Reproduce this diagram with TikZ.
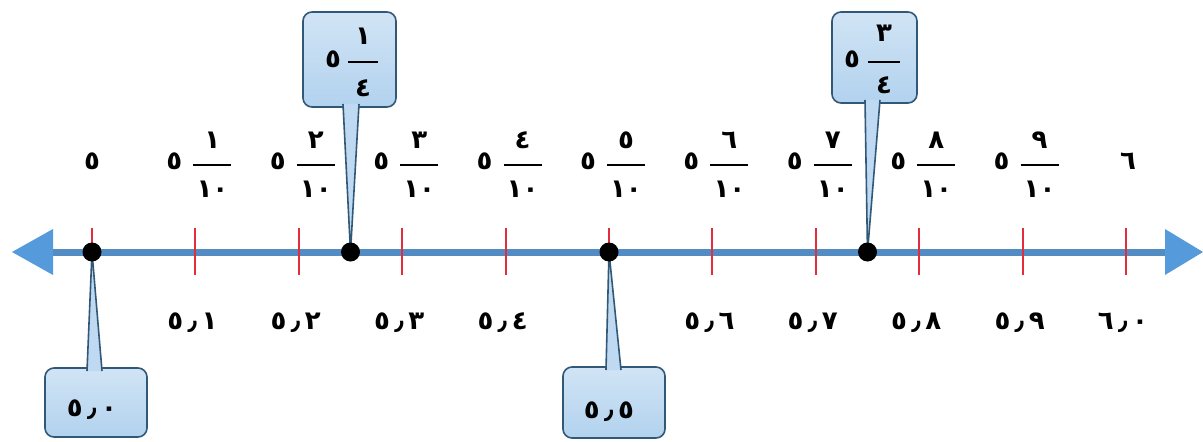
\documentclass[tikz,border=0pt]{standalone}
\usepackage{fontspec}
\newfontfamily\arnum{DejaVu Sans}
\definecolor{linec}{RGB}{82,140,195}
\definecolor{arrc}{RGB}{85,155,220}
\definecolor{tickc}{RGB}{225,45,60}
\definecolor{callfill}{RGB}{178,210,238}
\definecolor{calldraw}{RGB}{50,88,120}
\tikzset{
  num/.style={font=\arnum\bfseries\fontsize{26}{30}\selectfont, inner sep=0pt, anchor=center},
  callbox/.style={draw=calldraw, line width=1.6pt, rounded corners=9pt,
    top color=callfill!60!white, bottom color=callfill, inner sep=0pt},
  pointer/.style={draw=calldraw, line width=1.6pt, fill=callfill!85!white, line join=round},
  tickmark/.style={draw=tickc, line width=2pt},
  dot/.style={circle, fill=black, inner sep=0pt, minimum size=19pt},
  fracbar/.style={line width=1.8pt},
  axis/.style={draw=linec, line width=7pt},
  arrowhead/.style={fill=arrc}
}
\begin{document}
\begin{tikzpicture}[x=1pt,y=-1pt]
\useasboundingbox (0,0) rectangle (1203,442);
% axis
\draw[axis] (50,252) -- (1168,252);
\fill[arrowhead] (12,252) -- (53,229) -- (53,275) -- cycle;
\fill[arrowhead] (1203,252) -- (1165,229) -- (1165,275) -- cycle;
% ticks
\foreach \i in {0,...,10}{
  \coordinate (t\i) at ({92+103.4*\i},228);
  \draw[tickmark] (t\i) -- ++(0,47);
}
% top labels
\node[num] (w0) at (92,161) {٥};
\node[num] (w10) at (1128,161) {٦};
\foreach \i/\n in {1/١,2/٢,3/٣,4/٤,5/٥,6/٦,7/٧,8/٨,9/٩}{
  \pgfmathsetmacro\x{92+103.4*\i}
  \node[num] (w\i) at ({\x-21},161) {٥};
  \node[num] (n\i) at ({\x+17},140) {\n};
  \node[num] (d\i) at ({\x+17},189) {١٠};
  \draw[fracbar] ({\x-2},165) -- ({\x+36},165);
}
% bottom labels
\foreach \i/\t in {1/٥\,٫\,١,2/٥\,٫\,٢,3/٥\,٫\,٣,4/٥\,٫\,٤,6/٥\,٫\,٦,7/٥\,٫\,٧,8/٥\,٫\,٨,9/٥\,٫\,٩,10/٦\,٫\,٠}{
  \node[num] (b\i) at ({92+103.4*\i-3},323) {\t};
}
% dots (positions)
\coordinate (q0) at (92,252);
\coordinate (q1) at (350.5,252);
\coordinate (q2) at (609,252);
\coordinate (q3) at (867.5,252);
% callout boxes
\node[callbox, minimum width=93pt, minimum height=95pt] (c1) at (349.5,59.5) {};
\node[callbox, minimum width=85pt, minimum height=91pt] (c3) at (874.5,57.5) {};
\node[callbox, minimum width=102pt, minimum height=69pt] (c0) at (96,402.5) {};
\node[callbox, minimum width=102pt, minimum height=71pt] (c2) at (614,402.5) {};
% pointers
\path[pointer] (343,104) -- (q1) -- (359,104);
\path[pointer] (865,100) -- (q3) -- (880,100);
\path[pointer] (87,371) -- (q0) -- (102,371);
\path[pointer] (606,370) -- (q2) -- (621,370);
% dots
\foreach \k in {0,1,2,3}{ \node[dot] (p\k) at (q\k) {}; }
% callout texts
\node[num] (c1w) at (333,59) {٥};
\node[num] (c1n) at (363,36) {١};
\node[num] (c1d) at (363,88) {٤};
\draw[fracbar] (348,62) -- (378,62);
\node[num] (c3w) at (852,59) {٥};
\node[num] (c3n) at (884,33) {٣};
\node[num] (c3d) at (884,85) {٤};
\draw[fracbar] (868,62) -- (900,62);
\node[num] (c0t) at (92,410) {٥\,٫\,٠};
\node[num] (c2t) at (609,412) {٥\,٫\,٥};
\end{tikzpicture}
\end{document}
